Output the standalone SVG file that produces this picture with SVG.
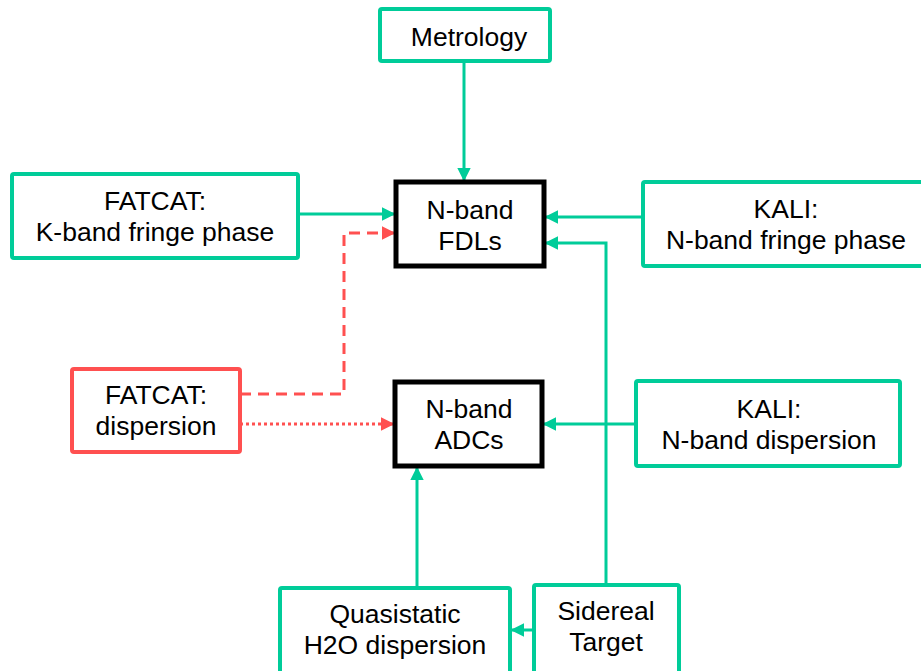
<svg xmlns="http://www.w3.org/2000/svg" width="921" height="671" viewBox="0 0 921 671">
<style>
text{font-family:"Liberation Sans",Arial,sans-serif;font-size:26.5px;fill:#000;text-anchor:middle}
.g{fill:#fff;stroke:#00CC99;stroke-width:4}
.r{fill:#fff;stroke:#FF5050;stroke-width:4}
.k{fill:#fff;stroke:#000;stroke-width:5}
.cg{fill:none;stroke:#00CC99;stroke-width:3}
.cr{fill:none;stroke:#FF5050;stroke-width:3}
</style>
<defs>
<marker id="ag" viewBox="0 0 10 10" refX="9" refY="5" markerWidth="4.5" markerHeight="4.5" orient="auto" markerUnits="strokeWidth"><path d="M0,0L10,5L0,10z" fill="#00CC99"/></marker>
<marker id="ar" viewBox="0 0 10 10" refX="9" refY="5" markerWidth="4.5" markerHeight="4.5" orient="auto" markerUnits="strokeWidth"><path d="M0,0L10,5L0,10z" fill="#FF5050"/></marker>
</defs>
<g id="connectors">
<path class="cg" d="M464,61V180" marker-end="url(#ag)"/>
<path class="cg" d="M298,214H394" marker-end="url(#ag)"/>
<path class="cg" d="M643,217H546" marker-end="url(#ag)"/>
<path class="cg" d="M606,584V243H546" marker-end="url(#ag)"/>
<path class="cr" d="M240,394H344V233H394" stroke-dasharray="11,7" marker-end="url(#ar)"/>
<path class="cr" d="M240,424H393" stroke-dasharray="3,3" marker-end="url(#ar)"/>
<path class="cg" d="M636,424H544" marker-end="url(#ag)"/>
<path class="cg" d="M417,588V468" marker-end="url(#ag)"/>
<path class="cg" d="M534,630H512" marker-end="url(#ag)"/>
</g>
<g id="metrology"><rect class="g" x="380" y="9" width="170" height="52" rx="2"/><text x="469" y="46">Metrology</text></g>
<g id="fdl"><rect class="k" x="396" y="182" width="148" height="84"/><text x="470" y="219">N-band</text><text x="470" y="250">FDLs</text></g>
<g id="fatcat-k"><rect class="g" x="12" y="174" width="286" height="84" rx="2"/><text x="155" y="210">FATCAT:</text><text x="155" y="241">K-band fringe phase</text></g>
<g id="kali-n"><rect class="g" x="643" y="182" width="290" height="84" rx="2"/><text x="786" y="218">KALI:</text><text x="786" y="249">N-band fringe phase</text></g>
<g id="fatcat-d"><rect class="r" x="72" y="369" width="168" height="83" rx="2"/><text x="156" y="404">FATCAT:</text><text x="156" y="435">dispersion</text></g>
<g id="adc"><rect class="k" x="395" y="382" width="147" height="84"/><text x="469" y="418">N-band</text><text x="469" y="449">ADCs</text></g>
<g id="kali-d"><rect class="g" x="636" y="381" width="264" height="85" rx="2"/><text x="769" y="418">KALI:</text><text x="769" y="449">N-band dispersion</text></g>
<g id="quasi"><rect class="g" x="280" y="588" width="230" height="85" rx="2"/><text x="395" y="623">Quasistatic</text><text x="395" y="654">H2O dispersion</text></g>
<g id="sidereal"><rect class="g" x="534" y="585" width="145" height="88" rx="2"/><text x="606" y="620">Sidereal</text><text x="606" y="651">Target</text></g>
</svg>
